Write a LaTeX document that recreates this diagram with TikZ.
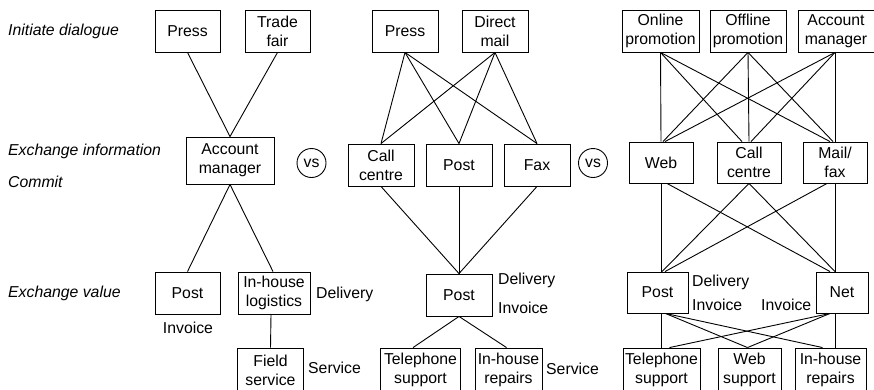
\documentclass[tikz,border=0pt]{standalone}
\usepackage{fontspec}
\setmainfont{Liberation Sans}
\usetikzlibrary{calc}
\begin{document}
\begin{tikzpicture}[x=1pt,y=-1pt,
  font=\fontsize{15.8}{19}\selectfont,
  bx/.style={draw, line width=0.9pt, inner sep=0pt, align=center, minimum height=42pt},
  ln/.style={line width=0.9pt},
  lbl/.style={inner sep=0pt, anchor=west},
  stage/.style={inner sep=0pt, anchor=west, font=\fontsize{15.8}{19}\selectfont\itshape},
  vsc/.style={draw, circle, line width=0.9pt, inner sep=0pt, minimum size=29pt}]
\useasboundingbox (0,0) rectangle (874,389);
\clip (0,0) rectangle (874,389);

% stage labels
\node[stage] (s1) at (8,31) {Initiate dialogue};
\node[stage] (s2) at (8,151) {Exchange information};
\node[stage] (s3) at (8,182) {Commit};
\node[stage] (s4) at (8,293) {Exchange value};

% ---------- panel 1 ----------
\node[bx, minimum width=65pt] (p1press) at (187.5,31) {Press};
\node[bx, minimum width=65pt] (p1trade) at (277.5,31) {Trade\\fair};
\node[bx, minimum width=88pt, minimum height=47pt] (p1am) at (230,160.5) {Account\\manager};
\node[bx, minimum width=65pt] (p1post) at (187.5,293) {Post};
\node[bx, minimum width=72pt] (p1log) at (274,293) {In-house\\logistics};
\node[bx, minimum width=66pt, minimum height=44pt] (p1field) at (270.5,370) {Field\\service};
\node[inner sep=0pt] (p1inv) at (188,328) {Invoice};
\node[lbl] (p1del) at (316,294) {Delivery};
\node[lbl] (p1ser) at (308,368) {Service};

\draw[ln] (p1press.south) -- (p1am.north);
\draw[ln] (p1trade.south) -- (p1am.north);
\draw[ln] (p1am.south) -- (p1post.north);
\draw[ln] (p1am.south) -- ($(p1log.north)+(-1,0)$);
\draw[ln] ($(p1log.south)+(-3,0)$) -- (p1field.north);

\node[vsc] (vs1) at (311.5,163) {vs};

% ---------- panel 2 ----------
\node[bx, minimum width=66pt] (p2press) at (405,31) {Press};
\node[bx, minimum width=66pt] (p2mail) at (495,31) {Direct\\mail};
\node[bx, minimum width=66pt] (p2call) at (381,165) {Call\\centre};
\node[bx, minimum width=66pt] (p2post) at (459,165) {Post};
\node[bx, minimum width=66pt] (p2fax) at (537,165) {Fax};
\node[bx, minimum width=66pt] (p2post2) at (459,295) {Post};
\node[bx, minimum width=80pt, minimum height=44pt] (p2tel) at (420.5,370) {Telephone\\support};
\node[bx, minimum width=67pt, minimum height=44pt] (p2rep) at (508.5,370) {In-house\\repairs};
\node[lbl] (p2del) at (498,280) {Delivery};
\node[lbl] (p2inv) at (498,308) {Invoice};
\node[lbl] (p2ser) at (546,369) {Service};

\foreach \t in {p2call,p2post,p2fax}{
  \draw[ln] (p2press.south) -- (\t.north);
  \draw[ln] (p2mail.south) -- (\t.north);
  \draw[ln] (\t.south) -- (p2post2.north);
}
\draw[ln] (p2post2.south) -- ($(p2tel.north)+(-7.5,0)$);
\draw[ln] (p2post2.south) -- ($(p2rep.north)+(-2,0)$);

\node[vsc] (vs2) at (593,163) {vs};

% ---------- panel 3 ----------
\node[bx, minimum width=77pt] (p3on) at (660.5,31) {Online\\promotion};
\node[bx, minimum width=76pt] (p3off) at (748,31) {Offline\\promotion};
\node[bx, minimum width=76pt] (p3am) at (836,31) {Account\\manager};
\node[bx, minimum width=64pt, minimum height=41pt] (p3web) at (661,162.5) {Web};
\node[bx, minimum width=64pt, minimum height=41pt] (p3call) at (749,162.5) {Call\\centre};
\node[bx, minimum width=64pt, minimum height=41pt] (p3mail) at (835,162.5) {Mail/\\fax};
\node[bx, minimum width=61pt, minimum height=41pt] (p3post) at (657.5,292.5) {Post};
\node[bx, minimum width=52pt, minimum height=41pt] (p3net) at (842,292.5) {Net};
\node[bx, minimum width=77pt, minimum height=44pt] (p3tel) at (661.5,370) {Telephone\\support};
\node[bx, minimum width=63pt, minimum height=44pt] (p3web2) at (749.5,370) {Web\\support};
\node[bx, minimum width=71pt, minimum height=44pt] (p3rep) at (830.5,370) {In-house\\repairs};
\node[lbl] (p3del) at (692,282) {Delivery};
\node[lbl] (p3inv) at (692,305) {Invoice};
\node[lbl] (p3inv2) at (761,305) {Invoice};

\draw[ln] (p3on.south) -- (p3web.north);
\draw[ln] (p3on.south) -- ($(p3call.north)+(-7,0)$);
\draw[ln] (p3on.south) -- ($(p3mail.north)+(-5,0)$);
\draw[ln] (p3off.south) -- ($(p3web.north)+(2,0)$);
\draw[ln] (p3off.south) -- (p3call.north);
\draw[ln] (p3off.south) -- ($(p3mail.north)+(-2,0)$);
\draw[ln] ($(p3am.south)+(-1,0)$) -- ($(p3web.north)+(4,0)$);
\draw[ln] ($(p3am.south)+(-1,0)$) -- ($(p3call.north)+(2,0)$);
\draw[ln] ($(p3am.south)+(-1,0)$) -- (p3mail.north);

\draw[ln] (p3web.south) -- ($(p3post.north)+(3.5,0)$);
\draw[ln] ($(p3web.south)+(6,0)$) -- ($(p3net.north)+(-12,0)$);
\draw[ln] (p3call.south) -- ($(p3post.north)+(4.5,0)$);
\draw[ln] (p3call.south) -- ($(p3net.north)+(-7,0)$);
\draw[ln] ($(p3mail.south)+(-8,0)$) -- ($(p3post.north)+(7.5,0)$);
\draw[ln] (p3mail.south) -- ($(p3net.north)+(-7,0)$);

\draw[ln] ($(p3post.south)+(4,0)$) -- (p3tel.north);
\draw[ln] ($(p3post.south)+(8,0)$) -- ($(p3web2.north)+(-2,0)$);
\draw[ln] ($(p3post.south)+(8,0)$) -- ($(p3rep.north)+(-8,0)$);
\draw[ln] ($(p3net.south)+(-7,0)$) -- ($(p3rep.north)+(4.5,0)$);
\draw[ln] ($(p3net.south)+(-12,0)$) -- ($(p3web2.north)+(-2,0)$);
\draw[ln] ($(p3net.south)+(-12,0)$) -- ($(p3tel.north)+(8,0)$);
\end{tikzpicture}
\end{document}
